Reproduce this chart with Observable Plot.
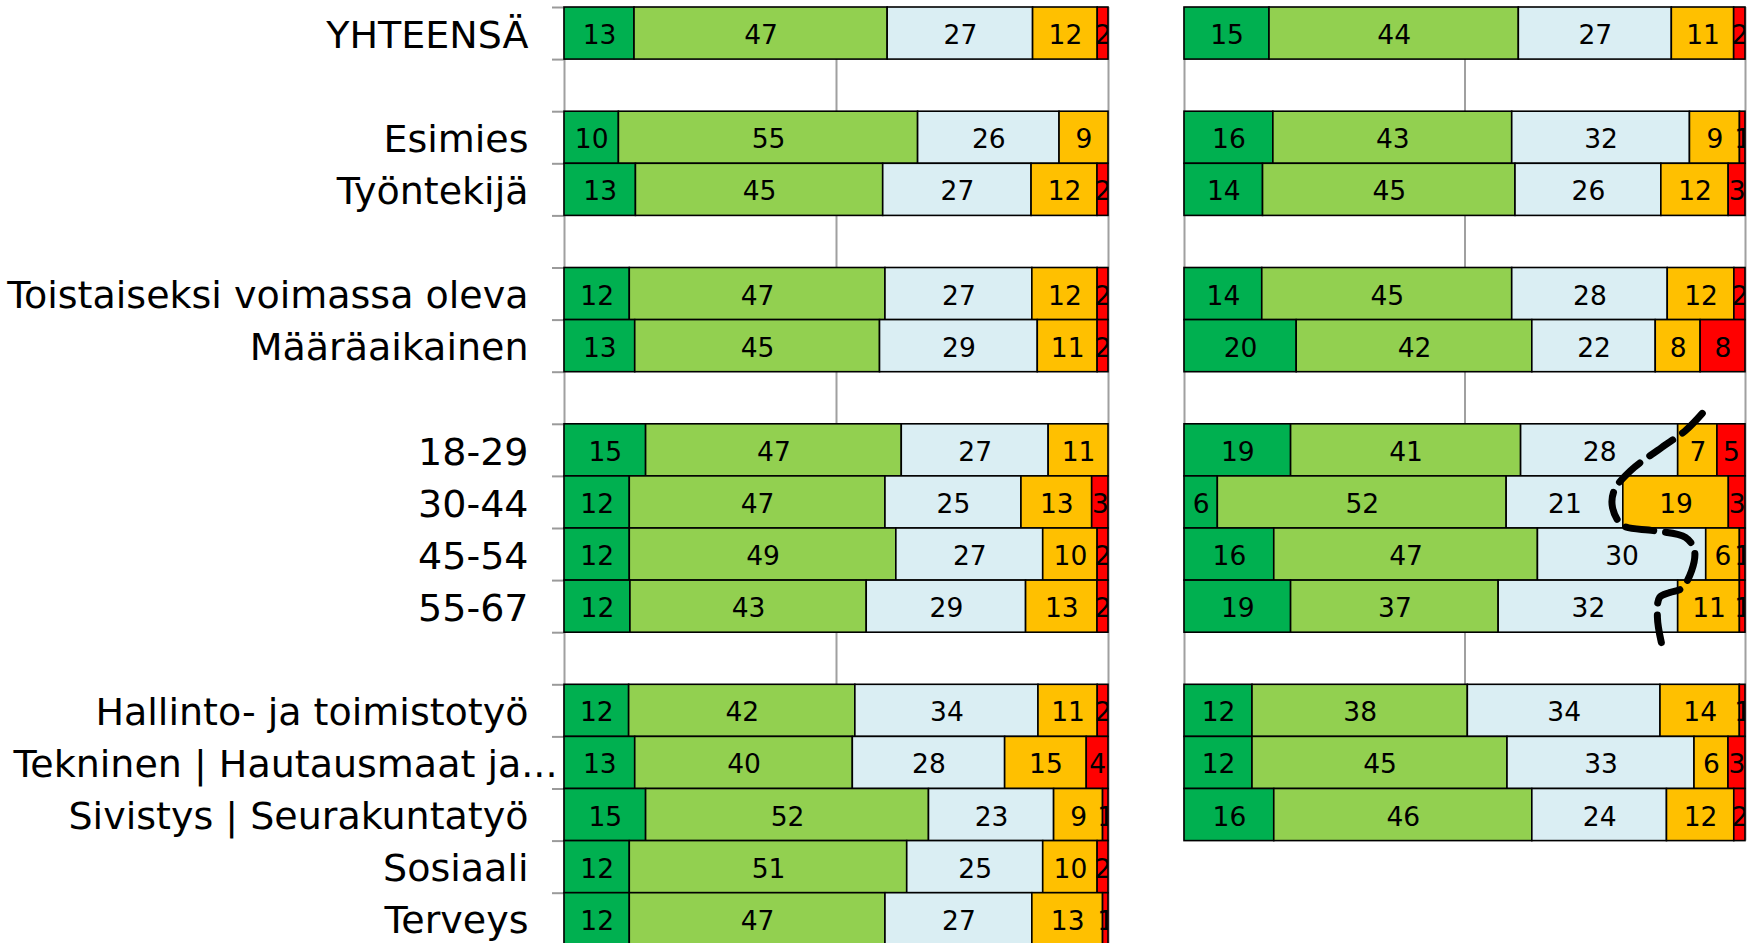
<!DOCTYPE html>
<html><head><meta charset="utf-8">
<script src="https://cdn.jsdelivr.net/npm/d3@7"></script>
<script src="https://cdn.jsdelivr.net/npm/@observablehq/plot@0.6"></script>
<style>
html,body{margin:0;padding:0;background:#fff;overflow:hidden;width:1762px;height:943px}
#wrap{position:relative;width:1762px;height:943px;overflow:hidden}
#left{position:absolute;left:0;top:0}
#right{position:absolute;left:1130px;top:0}
#left g[aria-label="y-axis tick"]{stroke-width:2px}
#left g.tick line{stroke-width:2px}
</style></head><body><div id="wrap"><div id="left"></div><div id="right"></div></div>
<script>
// Row categories (empty strings are spacer rows)
const categories = ["YHTEENSÄ","","Esimies","Työntekijä","","Toistaiseksi voimassa oleva","Määräaikainen","","18-29","30-44","45-54","55-67","","Hallinto- ja toimistotyö","Tekninen | Hautausmaat ja...","Sivistys | Seurakuntatyö","Sosiaali","Terveys"];
const seriesNames = ["Erinomainen","Hyvä","Kohtalainen","Heikko","Huono"];
const seriesColors = ["#00B050","#92D050","#DAEEF3","#FFC000","#FF0000"];

// Left panel values (per row)
const leftS1 = [13,null,10,13,null,12,13,null,15,12,12,12,null,12,13,15,12,12];
const leftS2 = [47,null,55,45,null,47,45,null,47,47,49,43,null,42,40,52,51,47];
const leftS3 = [27,null,26,27,null,27,29,null,27,25,27,29,null,34,28,23,25,27];
const leftS4 = [12,null,9,12,null,12,11,null,11,13,10,13,null,11,15,9,10,13];
const leftS5 = [2,null,0,2,null,2,2,null,0,3,2,2,null,2,4,1,2,1];

// Right panel values (per row)
const rightS1 = [15,null,16,14,null,14,20,null,19,6,16,19,null,12,12,16];
const rightS2 = [44,null,43,45,null,45,42,null,41,52,47,37,null,38,45,46];
const rightS3 = [27,null,32,26,null,28,22,null,28,21,30,32,null,34,33,24];
const rightS4 = [11,null,9,12,null,12,8,null,7,19,6,11,null,14,6,12];
const rightS5 = [2,null,1,3,null,2,8,null,5,3,1,1,null,1,3,2];

// Hand-drawn dashed annotation on the right panel (percent, row units)
const annotX = [92.3,89.3,85.0,79.5,76.6,76.3,78.1,83.6,89.3,90.9,90.4,88.6,86.5,84.7,84.3,85.0];
const annotY = [7.79,8.12,8.45,8.89,9.27,9.60,9.94,10.04,10.17,10.42,10.81,11.15,11.23,11.32,11.71,12.19];

const gridTicks = [0, 0.5, 1];
const rowCount = categories.length;

function buildRows(seriesArrays) {
  const out = [];
  const n = seriesArrays[0].length;
  for (let i = 0; i < n; i++) {
    seriesArrays.forEach((arr, k) => {
      const v = arr[i];
      if (v != null && v > 0) out.push({row: i, y1: i, y2: i + 1, yc: i + 0.5, series: seriesNames[k], value: v});
    });
  }
  return out;
}

const leftData = buildRows([leftS1, leftS2, leftS3, leftS4, leftS5]);
const rightData = buildRows([rightS1, rightS2, rightS3, rightS4, rightS5]);
const labels = categories.map((c, i) => ({label: c, yc: i + 0.5})).filter(d => d.label !== "");
const annot = annotX.map((x, i) => ({x: x / 100, y: annotY[i]}));

const rowPx = 52.1, topPx = 7;
const H = Math.ceil(topPx + rowCount * rowPx);

function barMarks(data) {
  return [
    Plot.rect(data, Plot.stackX({x: "value", y1: "y1", y2: "y2", z: "series", offset: "normalize", fill: "series", stroke: "#000", strokeWidth: 1.6})),
    Plot.text(data, Plot.stackX({x: "value", y: "yc", z: "series", offset: "normalize", text: d => String(d.value), fill: "#000", fontSize: 26.5, dy: 2, clip: true}))
  ];
}

const common = {
  height: H, marginTop: topPx, marginBottom: 0,
  x: {domain: [0, 1], axis: null},
  color: {domain: seriesNames, range: seriesColors},
  style: {fontFamily: "'DejaVu Sans', Verdana, sans-serif", color: "#9a9a9a", background: "white", overflow: "visible"}
};

const leftPlot = Plot.plot({
  ...common,
  width: 1130, marginLeft: 564, marginRight: 22,
  y: {domain: [0, rowCount], range: [topPx, topPx + rowCount * rowPx], ticks: d3.range(rowCount + 1), tickFormat: () => "", tickSize: 12, label: null},
  marks: [
    Plot.ruleX(gridTicks, {y1: 0, y2: rowCount, stroke: "#a0a0a0", strokeWidth: 2}),
    ...barMarks(leftData),
    Plot.text(labels.filter(d => !d.label.endsWith("...")), {x: 0, y: "yc", text: "label", textAnchor: "end", dx: -36, dy: 2, fontSize: 38, fill: "#000"}),
    Plot.text(labels.filter(d => d.label.endsWith("...")), {x: 0, y: "yc", text: "label", textAnchor: "end", dx: -7, dy: 2, fontSize: 38, fill: "#000"})
  ]
});

const rightRows = rightS1.length;
const rightPlot = Plot.plot({
  ...common,
  width: 632, marginLeft: 54, marginRight: 17,
  y: {domain: [0, rowCount], range: [topPx, topPx + rowCount * rowPx], axis: null},
  marks: [
    Plot.ruleX(gridTicks, {y1: 0, y2: rightRows, stroke: "#a0a0a0", strokeWidth: 2}),
    ...barMarks(rightData),
    Plot.line(annot, {x: "x", y: "y", curve: "catmull-rom", stroke: "#000", strokeWidth: 7, strokeDasharray: "28,12"})
  ]
});

document.getElementById("left").appendChild(leftPlot);
document.getElementById("right").appendChild(rightPlot);
</script>
</body></html>
